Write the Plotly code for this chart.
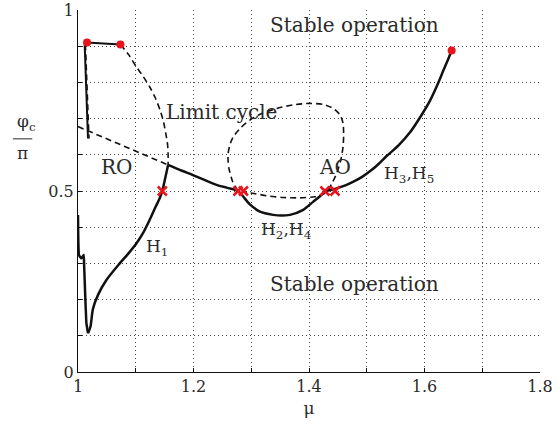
import plotly.graph_objects as go

# Main solid branch: wiggle near mu=1, H1 rise, then H2,H4 dip and H3,H5 rise
wig_mu = [1.000, 1.0017, 1.0059, 1.0099, 1.0105, 1.0128, 1.0146, 1.0173]
wig_phi = [0.434, 0.323, 0.314, 0.323, 0.300, 0.199, 0.134, 0.107]

h1_mu = [1.0173, 1.0215, 1.026, 1.0347, 1.0492, 1.0723, 1.086, 1.101, 1.113, 1.124,
         1.134, 1.142, 1.146, 1.151, 1.156]
h1_phi = [0.107, 0.125, 0.175, 0.213, 0.254, 0.300, 0.325, 0.355, 0.385, 0.420,
          0.455, 0.482, 0.500, 0.535, 0.572]

h2_mu = [1.156, 1.18, 1.199, 1.22, 1.24, 1.26, 1.277, 1.2976, 1.315, 1.338, 1.352,
         1.367, 1.390, 1.407, 1.418, 1.4276, 1.445, 1.462, 1.477, 1.492, 1.506, 1.520, 1.534,
         1.555, 1.575, 1.593, 1.610, 1.622, 1.633, 1.641, 1.647]
h2_phi = [0.572, 0.556, 0.544, 0.530, 0.517, 0.508, 0.500, 0.463, 0.443, 0.434, 0.432,
          0.434, 0.448, 0.470, 0.484, 0.498, 0.506, 0.515, 0.526, 0.539, 0.555, 0.574, 0.596,
          0.626, 0.662, 0.705, 0.751, 0.792, 0.834, 0.864, 0.888]

# Short solid segments near the top-left
top_mu = [1.0735, 1.0156, 1.0116, 1.0145, 1.0173]
top_phi = [0.905, 0.910, 0.903, 0.770, 0.645]

# Dashed branches
dash_a_mu = [1.0130, 1.0150, 1.0175, 1.0192]
dash_a_phi = [0.905, 0.800, 0.700, 0.645]

dash_b_mu = [1.0735, 1.088, 1.101, 1.113, 1.124, 1.134, 1.142, 1.148, 1.152, 1.155, 1.156, 1.156]
dash_b_phi = [0.905, 0.876, 0.843, 0.816, 0.788, 0.757, 0.724, 0.692, 0.659, 0.63, 0.604, 0.572]

dash_c_mu = [1.000, 1.156]
dash_c_phi = [0.678, 0.572]

loop_mu = [1.277, 1.268, 1.262, 1.260, 1.260, 1.263, 1.269, 1.282, 1.2976, 1.318, 1.344, 1.372,
           1.4015, 1.425, 1.442, 1.454, 1.459, 1.460, 1.459, 1.455, 1.448, 1.441, 1.434, 1.426,
           1.41, 1.384, 1.355, 1.3265, 1.305, 1.286]
loop_phi = [0.500, 0.525, 0.558, 0.580, 0.604, 0.628, 0.650, 0.675, 0.696, 0.714, 0.728, 0.738,
            0.742, 0.739, 0.728, 0.710, 0.687, 0.655, 0.622, 0.585, 0.549, 0.525, 0.505, 0.492,
            0.484, 0.481, 0.482, 0.487, 0.493, 0.498]

# Special points
dot_mu = [1.0156, 1.0735, 1.647]
dot_phi = [0.910, 0.905, 0.888]
cross_mu = [1.146, 1.277, 1.2865, 1.4276, 1.445]
cross_phi = [0.5, 0.5, 0.5, 0.5, 0.5]

# Text labels
label_text = ["Stable operation", "Stable operation", "Limit cycle", "RO", "AO"]
label_mu = [1.478, 1.478, 1.248, 1.067, 1.445]
label_phi = [0.958, 0.243, 0.718, 0.565, 0.565]
hlabel_text = ["H<sub>3</sub>,H<sub>5</sub>", "H<sub>2</sub>,H<sub>4</sub>", "H<sub>1</sub>"]
hlabel_mu = [1.574, 1.360, 1.137]
hlabel_phi = [0.545, 0.392, 0.343]

x_ticks = [1.0, 1.1, 1.2, 1.3, 1.4, 1.5, 1.6, 1.7, 1.8]
x_ticktext = ["1", "", "1.2", "", "1.4", "", "1.6", "", "1.8"]
y_ticks = [0.0, 0.1, 0.2, 0.3, 0.4, 0.5, 0.6, 0.7, 0.8, 0.9, 1.0]
y_ticktext = ["0", "", "", "", "", "0.5", "", "", "", "", "1"]

FONT = "DejaVu Serif"
TXT = "#2a2a2a"
BLACK = "#111111"
RED = "#e8141c"
DASH = "6px,4px"

fig = go.Figure()
fig.add_trace(go.Scatter(x=dash_c_mu, y=dash_c_phi, mode="lines",
                         line=dict(color=BLACK, width=1.6, dash=DASH)))
fig.add_trace(go.Scatter(x=dash_a_mu, y=dash_a_phi, mode="lines",
                         line=dict(color=BLACK, width=1.4, dash=DASH)))
fig.add_trace(go.Scatter(x=dash_b_mu, y=dash_b_phi, mode="lines",
                         line=dict(color=BLACK, width=1.6, dash=DASH, shape="spline", smoothing=0.6)))
fig.add_trace(go.Scatter(x=loop_mu, y=loop_phi, mode="lines",
                         line=dict(color=BLACK, width=1.6, dash=DASH, shape="spline", smoothing=0.6)))
fig.add_trace(go.Scatter(x=top_mu, y=top_phi, mode="lines",
                         line=dict(color=BLACK, width=2)))
fig.add_trace(go.Scatter(x=wig_mu, y=wig_phi, mode="lines",
                         line=dict(color=BLACK, width=2.5, shape="spline", smoothing=0.3)))
fig.add_trace(go.Scatter(x=h1_mu, y=h1_phi, mode="lines",
                         line=dict(color=BLACK, width=2.5, shape="spline", smoothing=0.8)))
fig.add_trace(go.Scatter(x=h2_mu, y=h2_phi, mode="lines",
                         line=dict(color=BLACK, width=2.5, shape="spline", smoothing=0.8)))
fig.add_trace(go.Scatter(x=dot_mu, y=dot_phi, mode="markers",
                         marker=dict(color=RED, size=8, symbol="circle")))
fig.add_trace(go.Scatter(x=cross_mu, y=cross_phi, mode="markers",
                         marker=dict(color=RED, size=9, symbol="x-thin", line=dict(color=RED, width=2.5))))

for t, xm, yp in zip(label_text, label_mu, label_phi):
    fig.add_annotation(x=xm, y=yp, text=t, showarrow=False, xanchor="center", yanchor="middle",
                       font=dict(family=FONT, size=20, color=TXT))
for t, xm, yp in zip(hlabel_text, hlabel_mu, hlabel_phi):
    fig.add_annotation(x=xm, y=yp, text=t, showarrow=False, xanchor="center", yanchor="middle",
                       font=dict(family=FONT, size=17, color=TXT))

# y-axis fraction title phi_c / pi
fig.add_annotation(xref="paper", yref="paper", x=-0.112, y=0.652, xanchor="center", yanchor="bottom",
                   text="φ<sub>c</sub>", showarrow=False,
                   font=dict(family=FONT, size=17, color=TXT))
fig.add_annotation(xref="paper", yref="paper", x=-0.121, y=0.638, xanchor="center", yanchor="top",
                   text="π", showarrow=False, font=dict(family=FONT, size=17, color=TXT))
fig.add_shape(type="line", xref="paper", yref="paper", x0=-0.141, x1=-0.099, y0=0.644, y1=0.644,
              line=dict(color=TXT, width=1))

fig.update_layout(
    width=558, height=425,
    margin=dict(l=78, r=18, t=10, b=53),
    paper_bgcolor="white", plot_bgcolor="white",
    showlegend=False,
    font=dict(family=FONT, size=16, color=TXT),
)
fig.update_xaxes(range=[1.0, 1.8], tickvals=x_ticks, ticktext=x_ticktext, automargin=False,
                 showgrid=True, gridcolor="#444444", griddash="1px,3px", gridwidth=1,
                 showline=True, linecolor=BLACK, linewidth=1.2,
                 ticks="inside", ticklen=4, tickcolor=BLACK, zeroline=False,
                 tickfont=dict(family=FONT, size=16, color=TXT),
                 title=dict(text="μ", standoff=6, font=dict(family=FONT, size=17)))
fig.update_yaxes(range=[0.0, 1.0], tickvals=y_ticks, ticktext=y_ticktext, automargin=False,
                 showgrid=True, gridcolor="#444444", griddash="1px,3px", gridwidth=1,
                 showline=True, linecolor=BLACK, linewidth=1.2,
                 ticks="inside", ticklen=4, tickcolor=BLACK, zeroline=False,
                 tickfont=dict(family=FONT, size=16, color=TXT))

fig.write_html("out.html")
